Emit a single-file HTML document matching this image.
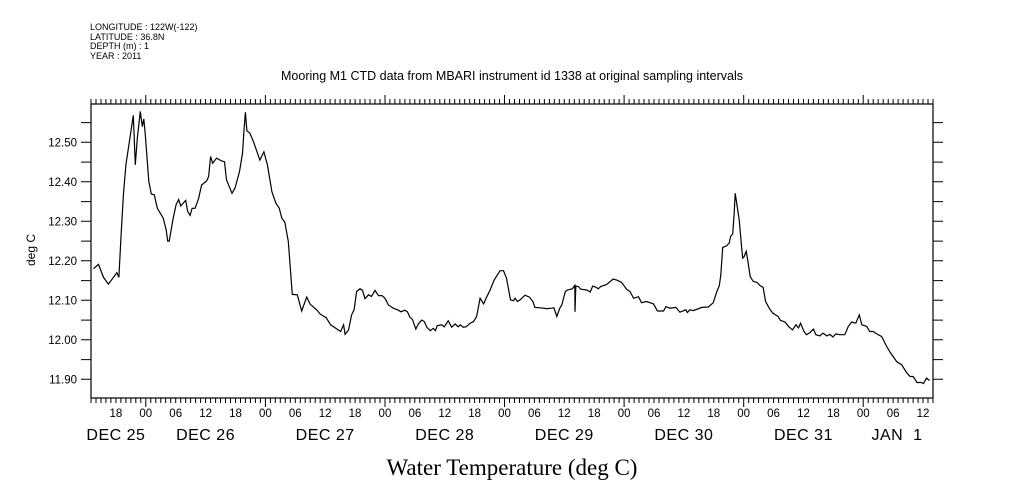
<!DOCTYPE html>
<html><head><meta charset="utf-8"><style>
body{margin:0;background:#fff}
svg{display:block}
text{font-family:"Liberation Sans",sans-serif;fill:#000}
</style></head><body>
<svg id="chart" width="1009" height="504" viewBox="0 0 1009 504" xmlns="http://www.w3.org/2000/svg">
<g font-size="9">
<text x="90" y="30">LONGITUDE : 122W(-122)</text>
<text x="90" y="40">LATITUDE : 36.8N</text>
<text x="90" y="49">DEPTH (m) : 1</text>
<text x="90" y="59">YEAR : 2011</text>
</g>
<text x="512" y="80" text-anchor="middle" font-size="12.5">Mooring M1 CTD data from MBARI instrument id 1338 at original sampling intervals</text>
<text x="35" y="250" text-anchor="middle" font-size="12" transform="rotate(-90 35 250)">deg C</text>
<text x="512" y="475" text-anchor="middle" font-size="23" style="font-family:'Liberation Serif',serif">Water Temperature (deg C)</text>
<rect x="91" y="104" width="842" height="294" fill="none" stroke="#000" stroke-width="1.2"/>
<g id="axes"></g>
<g id="series"></g>
</svg>
<script>
const times=[13.5,14.5,15.5,16.5,18.2,18.6,19.0,19.5,20.0,20.9,21.5,21.9,22.3,22.9,23.3,23.6,23.9,24.6,25.1,25.7,26.3,27.5,28.1,28.4,28.7,29.5,30.1,30.6,31.0,32.0,32.4,32.9,33.3,33.9,34.6,35.2,36.2,36.6,37.0,37.4,38.2,39.2,39.8,40.2,41.3,41.9,42.8,43.4,43.7,44.0,44.3,44.9,45.6,46.9,47.7,48.4,49.3,50.1,50.8,51.3,51.9,52.6,53.4,54.4,55.3,56.3,57.0,58.3,59.0,60.2,61.1,63.1,63.7,64.0,64.7,65.3,65.8,66.3,67.0,67.5,68.0,68.7,69.3,70.0,70.7,71.4,72.0,72.7,73.7,74.7,75.2,76.0,76.5,77.0,77.5,78.2,78.7,79.4,79.9,80.4,81.1,81.7,82.1,82.5,83.4,83.9,84.7,85.4,86.1,86.7,87.1,87.7,88.3,89.1,89.8,90.4,91.1,91.8,92.3,93.1,93.9,95.1,95.8,96.4,97.2,97.8,98.1,98.6,99.1,100.1,101.0,101.7,102.1,103.1,104.5,105.5,105.9,106.5,107.1,107.5,108.2,108.6,109.6,110.1,110.15,110.3,110.8,111.3,112.5,113.2,113.7,114.4,114.8,115.3,116.5,117.8,118.6,119.5,120.5,121.2,121.9,122.9,123.5,124.5,125.2,125.9,126.7,127.9,128.4,129.2,130.4,131.2,132.4,132.7,133.2,133.9,135.6,136.9,137.9,138.6,139.1,139.4,139.8,140.6,141.1,141.4,141.8,142.1,142.3,142.6,143.1,143.6,143.8,144.1,144.5,144.8,145.3,145.9,146.7,147.3,147.9,148.4,149.3,149.9,150.9,151.4,152.3,153.0,153.8,154.5,155.0,155.4,156.1,156.6,157.3,158.0,158.5,159.3,159.9,160.7,161.3,161.9,162.5,163.3,164.3,165.0,165.7,166.5,167.2,167.7,168.7,169.3,170.0,170.7,171.7,172.7,173.4,174.7,175.7,176.7,177.4,178.0,178.8,179.7,180.1,180.7,181.3];
const temps=[12.180,12.191,12.158,12.141,12.170,12.158,12.257,12.367,12.443,12.519,12.568,12.443,12.510,12.578,12.540,12.559,12.519,12.401,12.369,12.367,12.333,12.308,12.278,12.250,12.250,12.308,12.343,12.355,12.339,12.353,12.325,12.315,12.333,12.333,12.358,12.392,12.402,12.413,12.464,12.447,12.460,12.453,12.451,12.405,12.371,12.384,12.426,12.472,12.531,12.576,12.529,12.523,12.502,12.455,12.476,12.443,12.375,12.346,12.333,12.308,12.298,12.249,12.115,12.114,12.073,12.108,12.090,12.076,12.065,12.056,12.038,12.021,12.038,12.014,12.025,12.063,12.076,12.122,12.129,12.125,12.104,12.114,12.110,12.125,12.112,12.112,12.105,12.088,12.080,12.075,12.071,12.075,12.071,12.057,12.052,12.027,12.040,12.050,12.046,12.032,12.023,12.029,12.023,12.036,12.038,12.033,12.048,12.032,12.040,12.033,12.038,12.032,12.033,12.042,12.046,12.059,12.105,12.091,12.105,12.126,12.151,12.175,12.175,12.156,12.101,12.099,12.105,12.097,12.101,12.113,12.108,12.097,12.082,12.081,12.079,12.080,12.081,12.059,12.080,12.088,12.122,12.126,12.129,12.138,12.071,12.136,12.135,12.128,12.126,12.121,12.136,12.133,12.129,12.135,12.140,12.154,12.151,12.145,12.128,12.122,12.105,12.109,12.094,12.097,12.094,12.091,12.073,12.073,12.084,12.080,12.082,12.070,12.076,12.069,12.076,12.074,12.082,12.083,12.094,12.122,12.137,12.164,12.234,12.238,12.245,12.262,12.268,12.321,12.371,12.346,12.304,12.232,12.207,12.211,12.224,12.202,12.160,12.148,12.145,12.137,12.133,12.097,12.076,12.067,12.059,12.049,12.045,12.034,12.025,12.038,12.030,12.042,12.021,12.013,12.018,12.027,12.013,12.010,12.017,12.010,12.014,12.007,12.015,12.013,12.013,12.034,12.045,12.042,12.063,12.038,12.034,12.021,12.021,12.015,12.008,11.983,11.968,11.945,11.937,11.917,11.907,11.907,11.892,11.892,11.889,11.903,11.897];
const yTickLabels=["11.90","12.00","12.10","12.20","12.30","12.40","12.50"];
const hourLabels=["18","00","06","12","18","00","06","12","18","00","06","12","18","00","06","12","18","00","06","12","18","00","06","12","18","00","06","12"];
const dayLabels=["DEC 25","DEC 26","DEC 27","DEC 28","DEC 29","DEC 30","DEC 31","JAN  1"];

const T0=13, T1=182, X0=91, X1=933;
const xs=t=>X0+(t-T0)*(X1-X0)/(T1-T0);
const ys=v=>379.3-(v-11.9)*395;
const NS='http://www.w3.org/2000/svg';
const axes=document.getElementById('axes'), series=document.getElementById('series');
function mk(tag,parent,attrs){const e=document.createElementNS(NS,tag);for(const k in attrs)e.setAttribute(k,attrs[k]);parent.appendChild(e);return e;}

let d='';
for(let h=T0;h<=T1;h++){const x=xs(h).toFixed(1);const major=(h%24===0);
  d+=`M${x} 104V${major?95:99}M${x} 398V${major?407:403}`;}
for(let k=0;k<=15;k++){const v=11.85+k*0.05;const y=ys(v).toFixed(1);if(y<103||y>399)continue;
  d+=`M91 ${y}H81M933 ${y}H943`;}
const tk=mk('path',axes,{d:d,stroke:'#000','stroke-width':1,fill:'none'});



yTickLabels.forEach(s=>{const t=mk('text',axes,{x:77,y:ys(parseFloat(s))+4,'text-anchor':'end','font-size':11.5});t.textContent=s;
  
  });
hourLabels.forEach((s,i)=>{const h=18+i*6;const t=mk('text',axes,{x:xs(h),y:417,'text-anchor':'middle','font-size':11.5});t.textContent=s;
  
  });
dayLabels.forEach((s,i)=>{let h=12+i*24;if(i===0)h=18;let x=xs(h);if(i===dayLabels.length-1)x=897;
  const t=mk('text',axes,{x:x,y:440,'text-anchor':'middle','font-size':16,'xml:space':'preserve',style:'white-space:pre;letter-spacing:0.5px'});t.textContent=s;
  
  });

const pts=times.map((t,i)=>xs(t).toFixed(1)+','+ys(temps[i]).toFixed(1)).join(' ');
const line=mk('polyline',series,{points:pts,fill:'none',stroke:'#000','stroke-width':1.2});


</script>
</body></html>
